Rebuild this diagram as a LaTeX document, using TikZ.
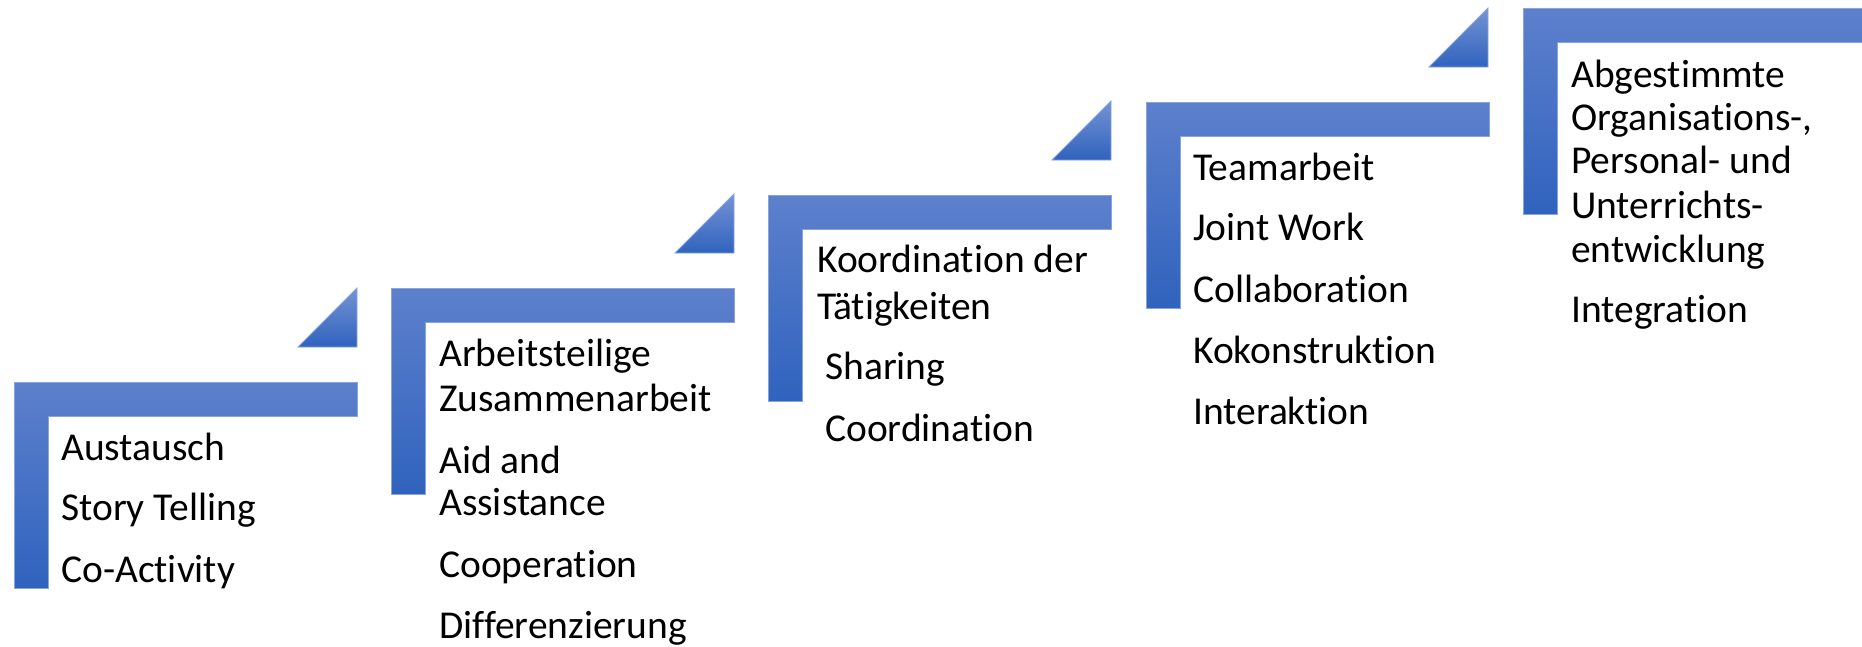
\documentclass[tikz,border=0pt]{standalone}
\usepackage{fontspec}
\setmainfont{Carlito}[RawFeature={-liga;-clig;-calt;-dlig;-rlig}]
\definecolor{blueTop}{HTML}{5D80CC}
\definecolor{blueBot}{HTML}{3063BE}
\definecolor{blueEdge}{HTML}{88A4DA}
\tikzset{
  stepL/.style={top color=blueTop, bottom color=blueBot, draw=blueEdge, line width=0.8pt},
  tri/.style={top color=blueTop!85!white, bottom color=blueBot, draw=blueEdge, line width=0.8pt},
  lbl/.style={anchor=base west, inner sep=0pt, font=\fontsize{39.5}{47}\selectfont, text=black}
}
\newcommand{\stepshape}[2]{%
  \path[stepL] (#1,#2) -- ++(343,0) -- ++(0,34) -- ++(-309,0) -- ++(0,172) -- ++(-34,0) -- cycle;}
\newcommand{\stepTri}[2]{%
  \path[tri] (#1,#2) -- ++(-59,0) -- ++(59,-59) -- cycle;}
\begin{document}
\begin{tikzpicture}[x=1pt,y=-1pt]
\useasboundingbox[fill=white] (0,0) rectangle (1862,646);
% L-shaped steps
\stepshape{14}{382}
\stepshape{391}{288}
\stepshape{768}{195}
\stepshape{1146}{102}
\stepshape{1523}{8}
% triangles
\stepTri{357}{347}
\stepTri{734}{253}
\stepTri{1111}{160}
\stepTri{1488}{67}
% step 1
\node[lbl] (a1) at (61,460) {Austausch};
\node[lbl] (a2) at (61,520) {Story Telling};
\node[lbl] (a3) at (61,582) {Co-Activity};
% step 2
\node[lbl] (b1) at (439,366) {Arbeitsteilige};
\node[lbl] (b2) at (439,411) {Zusammenarbeit};
\node[lbl] (b3) at (439,473) {Aid and};
\node[lbl] (b4) at (439,515) {Assistance};
\node[lbl] (b5) at (439,577) {Cooperation};
\node[lbl] (b6) at (439,638) {Differenzierung};
% step 3
\node[lbl] (c1) at (817,272) {Koordination der};
\node[lbl] (c2) at (817,319) {Tätigkeiten};
\node[lbl] (c3) at (825,379) {Sharing};
\node[lbl] (c4) at (825,441) {Coordination};
% step 4
\node[lbl] (d1) at (1193,180) {Teamarbeit};
\node[lbl] (d2) at (1193,240) {Joint Work};
\node[lbl] (d3) at (1193,302) {Collaboration};
\node[lbl] (d4) at (1193,363) {Kokonstruktion};
\node[lbl] (d5) at (1193,424) {Interaktion};
% step 5
\node[lbl] (e1) at (1571,87) {Abgestimmte};
\node[lbl] (e2) at (1571,130) {Organisations-,};
\node[lbl] (e3) at (1571,173) {Personal- und};
\node[lbl] (e4) at (1571,218) {Unterrichts-};
\node[lbl] (e5) at (1571,262) {entwicklung};
\node[lbl] (e6) at (1571,322) {Integration};
\end{tikzpicture}
\end{document}
